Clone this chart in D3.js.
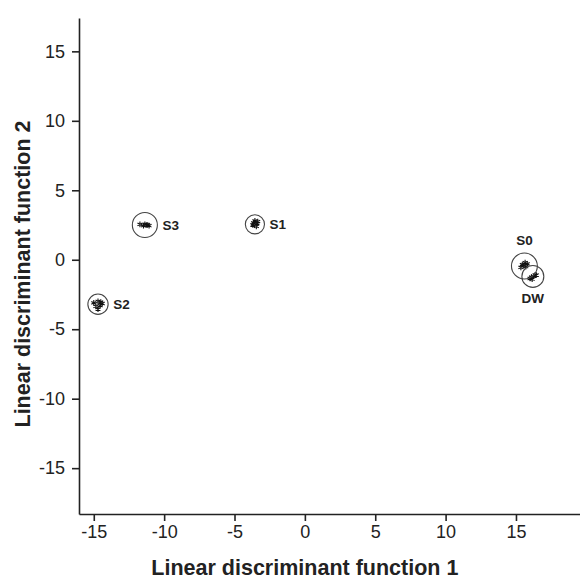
<!DOCTYPE html>
<html>
<head>
<meta charset="utf-8">
<script src="https://cdn.jsdelivr.net/npm/d3@7"></script>
<style>
  body { margin: 0; background: #fff; }
  svg { display: block; font-family: "Liberation Sans", Arial, sans-serif; }
  .axis path, .axis line { stroke: #222; stroke-width: 1.6; }
  .axis text { fill: #222; font-size: 18px; }
</style>
</head>
<body>
<svg id="lda" width="580" height="579"></svg>
<script>
// group centroids on the two discriminant functions
const groups = ['S0', 'DW', 'S1', 'S2', 'S3'];
const centroidX = [15.6, 16.2, -3.55, -14.7, -11.37];
const centroidY = [-0.45, -1.2, 2.55, -3.2, 2.5];
// confidence circle radius (data units)
const circleR = [0.92, 0.78, 0.68, 0.72, 0.89];
// label placement around each circle
const labelPos = ['top', 'bottom', 'right', 'right', 'right'];

// individual observations, offsets from their centroid
const obsGroup = [
  'S0','S0','S0','S0','S0','S0',
  'DW','DW','DW','DW','DW','DW',
  'S1','S1','S1','S1','S1','S1',
  'S2','S2','S2','S2','S2','S2','S2',
  'S3','S3','S3','S3','S3','S3'
];
const obsDx = [
  -0.15, 0.05, -0.25, 0.1, -0.05, 0.2,
  -0.1, 0.15, -0.2, 0.05, 0.25, -0.05,
  0.0, 0.15, -0.15, 0.1, -0.1, 0.2,
  -0.3, 0.0, 0.3, -0.15, 0.15, 0.0, 0.2,
  -0.35, -0.1, 0.1, 0.3, 0.0, 0.2
];
const obsDy = [
  0.1, 0.25, -0.1, -0.05, 0.05, 0.15,
  -0.05, 0.1, -0.15, 0.0, 0.1, -0.2,
  0.25, 0.05, -0.05, -0.15, 0.1, 0.2,
  0.1, 0.2, 0.05, -0.15, -0.1, -0.35, 0.15,
  0.05, -0.05, 0.0, -0.05, 0.05, 0.0
];

const xTicks = [-15, -10, -5, 0, 5, 10, 15];
const yTicks = [-15, -10, -5, 0, 5, 10, 15];

function drawLda() {
  const svg = d3.select('#lda');
  const left = 79, right = 580, top = 18, bottom = 514;

  const x = d3.scaleLinear().domain([-16.05, 19.55]).range([left, right]);
  const y = d3.scaleLinear().domain([-18.3, 17.4]).range([bottom, top]);

  // axes (no opposite frame), plain hyphen for negatives
  svg.append('g').attr('class', 'axis')
    .attr('transform', `translate(0,${bottom})`)
    .call(d3.axisBottom(x).tickValues(xTicks).tickFormat(d => String(d))
      .tickSize(7).tickPadding(4).tickSizeOuter(0));

  svg.append('g').attr('class', 'axis')
    .attr('transform', `translate(${left},0)`)
    .call(d3.axisLeft(y).tickValues(yTicks).tickFormat(d => String(d))
      .tickSize(7).tickPadding(7).tickSizeOuter(0));

  // axis titles
  svg.append('text')
    .attr('x', x(0)).attr('y', 575)
    .attr('text-anchor', 'middle')
    .attr('font-size', 21.5).attr('font-weight', 'bold').attr('fill', '#222')
    .text('Linear discriminant function 1');

  svg.append('text')
    .attr('transform', `translate(30,274) rotate(-90)`)
    .attr('text-anchor', 'middle')
    .attr('font-size', 21.5).attr('font-weight', 'bold').attr('fill', '#222')
    .text('Linear discriminant function 2');

  const kx = x(1) - x(0);

  // observations
  const obs = obsGroup.map((g, i) => {
    const gi = groups.indexOf(g);
    return { x: centroidX[gi] + obsDx[i], y: centroidY[gi] + obsDy[i] };
  });
  svg.append('g').selectAll('path')
    .data(obs).enter().append('path')
      .attr('transform', d => `translate(${x(d.x)},${y(d.y)})`)
      .attr('d', d3.symbol(d3.symbolAsterisk, 22))
      .attr('fill', 'none')
      .attr('stroke', '#111')
      .attr('stroke-width', 1.1);

  // confidence circles
  const cent = groups.map((g, i) => ({ g, cx: centroidX[i], cy: centroidY[i], r: circleR[i], pos: labelPos[i] }));
  svg.append('g').selectAll('circle')
    .data(cent).enter().append('circle')
      .attr('cx', d => x(d.cx))
      .attr('cy', d => y(d.cy))
      .attr('r', d => d.r * kx)
      .attr('fill', 'none')
      .attr('stroke', '#444')
      .attr('stroke-width', 1.1);

  // group labels
  svg.append('g').selectAll('text')
    .data(cent).enter().append('text')
      .attr('x', d => d.pos === 'right' ? x(d.cx) + d.r * kx + 5 : x(d.cx))
      .attr('y', d => d.pos === 'top' ? y(d.cy) - d.r * kx - 8
                    : d.pos === 'bottom' ? y(d.cy) + d.r * kx + 16
                    : y(d.cy) + 5)
      .attr('text-anchor', d => d.pos === 'right' ? 'start' : 'middle')
      .attr('font-size', 13.5).attr('font-weight', 'bold').attr('fill', '#222')
      .text(d => d.g);
}

drawLda();
</script>
</body>
</html>
